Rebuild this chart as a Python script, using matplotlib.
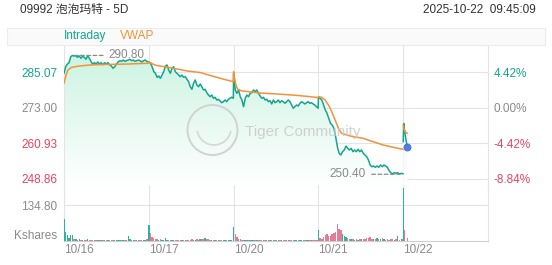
import numpy as np
import matplotlib.pyplot as plt
from matplotlib.colors import LinearSegmentedColormap
from matplotlib.patches import Rectangle, Ellipse, Arc

plt.rcParams['font.family'] = ['Liberation Sans', 'Noto Sans CJK SC', 'DejaVu Sans']

title = "09992 泡泡玛特 - 5D"
stamp = "2025-10-22  09:45:09"
days = ["10/16", "10/17", "10/20", "10/21", "10/22"]
prev_close = 273.00
price_ticks = [285.07, 273.00, 260.93, 248.86]
vol_tick = 134.80
day_minutes = 330

# intraday prices, evenly spaced over each session
px_1016 = [284.73, 286.97, 287.89, 288.33, 290.37, 290.80, 290.61, 290.70, 290.17, 290.65,
           289.83, 290.50, 290.17, 289.49, 290.70, 289.83, 288.67, 287.89, 288.33, 287.89,
           288.57, 287.89, 288.33, 287.65, 288.33, 287.89, 288.33, 287.65, 287.21, 286.43,
           286.97, 287.89, 288.57, 289.01, 288.81, 289.25, 288.81, 289.01, 289.25, 289.49,
           289.01, 289.25, 288.81, 289.01, 289.25, 289.01, 288.57, 289.01, 289.25, 288.81, 288.57]
px_1017 = [288.67, 288.13, 286.97, 285.27, 284.73, 283.37, 283.81, 283.03, 284.15, 285.27,
           287.21, 287.55, 285.85, 284.73, 286.43, 286.97, 285.27, 284.73, 284.15, 283.57,
           284.15, 283.37, 283.57, 282.69, 281.87, 280.17, 279.29, 281.33, 282.45, 280.75,
           280.17, 281.09, 280.17, 279.05, 279.29, 278.13, 277.35, 276.77, 277.35, 276.23,
           276.57, 275.65, 275.89, 275.31, 274.73, 275.07, 275.65, 275.07, 275.89, 276.23, 276.57, 276.23]
px_1020 = [284.73, 279.05, 277.93, 279.05, 276.77, 275.65, 273.37, 276.23, 277.35, 276.77,
           277.93, 278.13, 279.05, 278.47, 279.05, 277.93, 277.01, 276.23, 276.57, 275.65,
           275.89, 275.07, 275.41, 274.29, 275.65, 274.73, 275.07, 275.65, 274.73, 275.41,
           275.07, 274.53, 275.07, 275.65, 275.07, 273.95, 272.83, 273.37, 273.95, 273.61,
           274.53, 275.07, 274.73, 274.29, 274.73, 275.07, 274.53, 274.73, 274.29, 273.95, 273.37, 272.83]
px_1021 = [276.57, 276.23, 275.65, 273.95, 272.25, 271.13, 269.43, 267.73, 267.15, 266.03,
           263.17, 259.77, 257.53, 256.95, 258.07, 258.65, 260.01, 259.23, 258.65, 259.23,
           258.07, 258.65, 258.07, 258.89, 258.07, 258.65, 257.53, 256.95, 256.37, 255.25,
           253.55, 252.97, 253.21, 252.77, 253.21, 252.77, 253.55, 252.97, 253.55, 253.21,
           252.77, 251.61, 250.93, 250.55, 250.93, 250.73, 250.93, 250.40, 250.73, 250.55]
px_1022 = [261.5, 267.7, 265.5, 262.0, 259.6]
min_1022 = [0, 2, 5, 11, 16]

# volume (K shares), same sampling as prices
vol_1016 = [82, 35, 24, 10, 22, 22, 8, 7, 5, 6, 4, 5, 4, 3, 6, 4, 5, 3, 4, 3,
            4, 3, 4, 3, 3, 4, 3, 5, 4, 5, 4, 3, 4, 5, 4, 3, 4, 5, 18, 8,
            5, 4, 3, 4, 3, 4, 4, 5, 4, 6, 8]
vol_1017 = [60, 32, 15, 10, 8, 6, 5, 6, 4, 5, 10, 5, 4, 3, 4, 3, 3, 4, 3, 3,
            4, 3, 4, 3, 4, 5, 6, 4, 5, 6, 5, 7, 6, 8, 10, 8, 6, 5, 4, 5,
            4, 3, 4, 3, 4, 5, 3, 4, 3, 4, 5, 6]
vol_1020 = [54, 25, 14, 8, 6, 5, 4, 3, 4, 3, 3, 2, 3, 2, 3, 2, 2, 3, 2, 3,
            2, 2, 3, 2, 3, 2, 2, 3, 2, 3, 2, 3, 2, 4, 3, 2, 3, 2, 3, 4,
            3, 2, 3, 2, 3, 4, 3, 2, 3, 3, 4, 5]
vol_1021 = [42, 12, 8, 15, 22, 28, 18, 20, 25, 30, 35, 64, 45, 40, 28, 20, 15, 10, 8, 6,
            8, 5, 6, 5, 6, 8, 7, 9, 10, 12, 14, 8, 6, 7, 10, 6, 8, 12, 6, 5,
            7, 5, 6, 8, 5, 6, 20, 5, 6, 8]
vol_1022 = [199, 106, 42, 30, 12]

# VWAP per session: (minute, value)
vw_min_a = [0, 3, 8, 15, 30, 60, 100, 150, 200, 250, 300, 329]
vw_1016 = [281.33, 282.45, 284.15, 285.85, 286.77, 287.21, 287.55, 287.72, 287.79, 287.89, 288.06, 288.13]
vw_1017 = [288.67, 288.47, 288.23, 287.89, 287.38, 286.97, 286.36, 285.51, 285.00, 283.71, 282.52, 281.87]
vw_1020 = [285.27, 283.47, 281.09, 279.39, 278.78, 278.47, 278.03, 277.79, 277.52, 277.18, 276.77, 276.43]
vw_min_b = [0, 13, 26, 39, 52, 65, 78, 90, 110, 136, 174, 213, 252, 291, 329]
vw_1021 = [276.77, 276.57, 275.65, 273.95, 271.67, 268.85, 266.03, 264.33, 263.75, 263.17,
           262.63, 261.47, 260.35, 259.57, 258.89]
vw_min_c = [0, 3, 8, 16]
vw_1022 = [267.15, 265.79, 264.77, 264.33]

teal = '#13a68e'
orange = '#f39237'
red = '#e8445f'
gray = '#8a8a8a'
gridc = '#e4e4e4'
vol_up = '#2bb59c'
vol_dn = '#e77a95'

W, H = 552, 265
fig = plt.figure(figsize=(W / 100, H / 100), dpi=100)

# header
fig.text(20 / W, 1 - 10 / H, title, fontsize=8.5, color='#333333', va='center', ha='left')
fig.text(536 / W, 1 - 10 / H, stamp, fontsize=8.5, color='#333333', va='center', ha='right')
fig.patches.append(Rectangle((7 / W, 1 - 45 / H), 538 / W, 17.5 / H, transform=fig.transFigure,
                             facecolor='#fafafa', edgecolor='#ececec', lw=0.8, zorder=0))
fig.text(64 / W, 1 - 36 / H, "Intraday", fontsize=8.5, color=teal, va='center')
fig.text(120 / W, 1 - 36 / H, "VWAP", fontsize=8.5, color=orange, va='center')

ax = fig.add_axes([64 / W, 1 - 185 / H, 424 / W, 140 / H])
axv = fig.add_axes([64 / W, 1 - 241 / H, 424 / W, 56 / H])
ylo, yhi = 246.75, 294.35
xmax = 5 * day_minutes

main_days = [px_1016, px_1017, px_1020, px_1021]
x_main = np.concatenate([d * day_minutes + np.linspace(0, day_minutes - 1, len(p))
                         for d, p in enumerate(main_days)])
y_main = np.concatenate(main_days)
x_last = 4 * day_minutes + np.array(min_1022)
y_last = np.array(px_1022)

# gradient fill under the price line
cmap = LinearSegmentedColormap.from_list('mint', ['#ffffff', '#c9f3e0'])
for xx, yy in [(x_main, y_main), (x_last, y_last)]:
    img = ax.imshow(np.linspace(0, 1, 256).reshape(-1, 1), cmap=cmap, aspect='auto',
                    origin='lower', extent=[0, xmax, ylo, yhi], zorder=1)
    poly = ax.fill_between(xx, yy, ylo, facecolor='none', edgecolor='none')
    img.set_clip_path(poly.get_paths()[0], transform=ax.transData)

ax.plot(x_main, y_main, color=teal, lw=1.1, zorder=3)
ax.plot(x_last, y_last, color=teal, lw=1.1, zorder=3)

vw_sets = [(vw_min_a, vw_1016), (vw_min_a, vw_1017), (vw_min_a, vw_1020), (vw_min_b, vw_1021)]
vx = np.concatenate([d * day_minutes + np.array(m) for d, (m, v) in enumerate(vw_sets)])
vy = np.concatenate([v for m, v in vw_sets])
ax.plot(vx, vy, color=orange, lw=1.1, zorder=4)
ax.plot(4 * day_minutes + np.array(vw_min_c), vw_1022, color=orange, lw=1.1, zorder=4)

ax.plot(x_last[-1], y_last[-1], 'o', ms=5, color='#4f7fe6', mec='#3d6ad8', mew=0.6, zorder=5)

# high / low markers
ih = int(np.argmax(y_main))
ax.annotate(f"{y_main[ih]:.2f}", xy=(x_main[ih], y_main[ih]), xytext=(26, 0),
            textcoords='offset points', ha='left', va='center', fontsize=8.5, color=gray,
            arrowprops=dict(arrowstyle='-', linestyle=(0, (3, 2)), color=gray, lw=0.9,
                            shrinkA=2, shrinkB=0), zorder=6)
il = int(np.argmin(y_main))
ax.annotate(f"{y_main[il]:.2f}", xy=(x_main[il], y_main[il]), xytext=(-24, 0),
            textcoords='offset points', ha='right', va='center', fontsize=8.5, color=gray,
            arrowprops=dict(arrowstyle='-', linestyle=(0, (3, 2)), color=gray, lw=0.9,
                            shrinkA=2, shrinkB=0), zorder=6)

ax.set_xlim(0, xmax)
ax.set_ylim(ylo, yhi)
ax.set_xticks([d * day_minutes for d in range(5)])
ax.set_xticklabels([])
ax.set_yticks(price_ticks)
ax.set_yticklabels([f"{v:.2f}" for v in price_ticks])
ax.grid(True, color=gridc, lw=0.8)
ax.set_axisbelow(True)
ax.tick_params(length=0, labelsize=8.5, pad=4.8)
for lbl, c in zip(ax.get_yticklabels(), [teal, gray, red, red]):
    lbl.set_color(c)
for s in ['top', 'left', 'right']:
    ax.spines[s].set_color(gridc)
ax.spines['bottom'].set_visible(False)

axr = ax.twinx()
axr.set_ylim(ylo, yhi)
axr.set_yticks(price_ticks)
axr.set_yticklabels([f"{(v - prev_close) / prev_close * 100:.2f}%" for v in price_ticks])
axr.tick_params(length=0, labelsize=8.5, pad=3.8)
for lbl, c in zip(axr.get_yticklabels(), [teal, gray, red, red]):
    lbl.set_color(c)
for s in axr.spines.values():
    s.set_visible(False)

# volume
v_main = np.concatenate([vol_1016, vol_1017, vol_1020, vol_1021])
up_main = np.diff(y_main, prepend=y_main[0]) >= 0
axv.bar(x_main, v_main, width=5.5, color=np.where(up_main, vol_up, vol_dn), lw=0, zorder=3)
up_last = np.diff(y_last, prepend=y_last[0]) >= 0
axv.bar(x_last, vol_1022, width=2.5, color=np.where(up_last, vol_up, vol_dn), lw=0, zorder=3)
axv.set_xlim(0, xmax)
axv.set_ylim(0, 56 / 35.7 * vol_tick)
axv.set_xticks([d * day_minutes for d in range(5)])
axv.set_xticklabels(days, ha='left')
axv.set_yticks([vol_tick])
axv.set_yticklabels([f"{vol_tick:.2f}"])
axv.grid(True, color=gridc, lw=0.8)
axv.set_axisbelow(True)
axv.tick_params(length=0, labelsize=8.5, colors=gray, pad=4.8)
axv.tick_params(axis='x', pad=2.5)
for s in ['left', 'right']:
    axv.spines[s].set_color(gridc)
axv.spines['bottom'].set_color('#d0d0d0')
axv.spines['top'].set_visible(False)
axv.set_facecolor('none')
fig.text(57.3 / W, 1 - 236 / H, "Kshares", fontsize=8.5, color=gray, ha='right', va='center')

# watermark
fig.patches.append(Ellipse((212.5 / W, 1 - 130 / H), 50 / W, 50 / H, transform=fig.transFigure,
                           fill=False, edgecolor='#d2d2d2', lw=1.4, zorder=10))
fig.patches.append(Arc((214 / W, 1 - 128 / H), 34 / W, 34 / H, theta1=200, theta2=340,
                       transform=fig.transFigure, edgecolor='#d6d6d6', lw=1.2, zorder=10))
fig.text(245 / W, 1 - 131.7 / H, "Tiger Community", fontsize=11, color='#c9c9c9',
         alpha=0.85, va='center', ha='left', zorder=10)

fig.savefig("out.png", dpi=100)
